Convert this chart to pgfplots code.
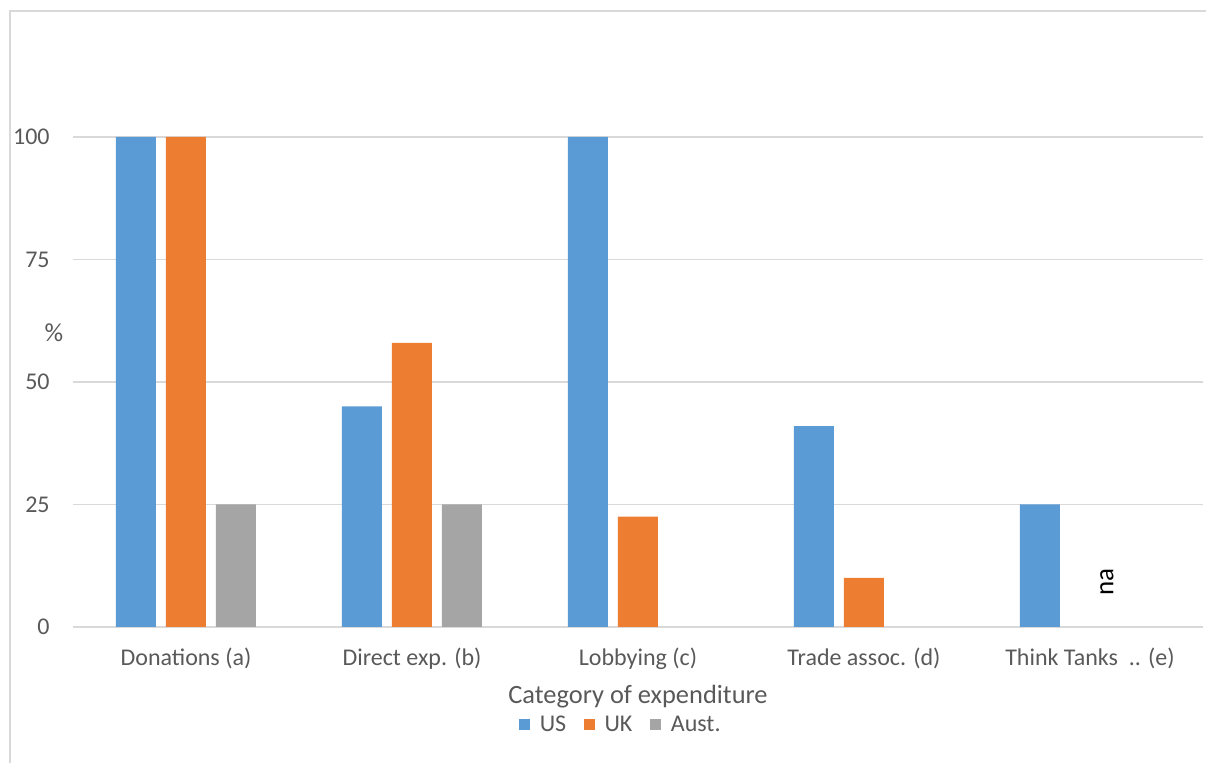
\documentclass[border=0pt]{standalone}
\usepackage{pgfplots}
\pgfplotsset{compat=1.18}
\usepackage{fontspec}
\setmainfont{Carlito}

\definecolor{usblue}{HTML}{5B9BD5}
\definecolor{ukorange}{HTML}{ED7D31}
\definecolor{ausgray}{HTML}{A5A5A5}
\definecolor{gridgray}{HTML}{D9D9D9}
\definecolor{labelgray}{HTML}{595959}

\begin{document}
\begin{tikzpicture}
\begin{axis}[
    name=ax,
    scale only axis,
    width=565pt, height=245pt,
    ybar=5pt, bar width=20pt,
    xmin=-0.5, xmax=4.5,
    ymin=0, ymax=100,
    xtick={0,1,2,3,4},
    xticklabels={Donations (a), Direct exp. (b), Lobbying (c), Trade assoc. (d), Think Tanks\ \ .. (e)},
    ytick={0,25,50,75,100},
    /pgf/number format/assume math mode=true,
    major tick length=0pt,
    axis line style={draw=none},
    ymajorgrids,
    major grid style={gridgray, line width=0.8pt},
    ticklabel style={font=\fontsize{12}{14}\selectfont, text=labelgray, inner sep=0pt},
    xticklabel style={anchor=base, yshift=-19.25pt},
    yticklabel style={anchor=east, xshift=-11.5pt},
    xlabel={Category of expenditure},
    xlabel style={at={(axis description cs:0.5,0)}, anchor=base, yshift=-38.5pt,
        inner sep=0pt, font=\fontsize{13.2}{15}\selectfont, text=labelgray},
    ylabel={\%},
    ylabel style={rotate=-90, at={(axis description cs:-0.0168,0.6)}, anchor=center,
        inner sep=0pt, font=\fontsize{13}{15}\selectfont, text=labelgray},
    legend image code/.code={\fill[#1] (0pt,-2.75pt) rectangle (5.5pt,2.75pt);},
    legend columns=3,
    legend style={draw=none, fill=none,
        at={(axis description cs:0.486,0)}, anchor=center, yshift=-49pt,
        nodes={font=\fontsize{12}{14}\selectfont, text=labelgray, inner sep=2.2pt},
        /tikz/every odd column/.append style={column sep=2.5pt},
        /tikz/every even column/.append style={column sep=6.8pt}},
]
\addplot[fill=usblue, draw=none] coordinates {(0,100) (1,45) (2,100) (3,41) (4,25)};
\addlegendentry{US}
\addplot[fill=ukorange, draw=none] coordinates {(0,100) (1,58) (2,22.5) (3,10)};
\addlegendentry{UK}
\addplot[fill=ausgray, draw=none] coordinates {(0,25) (1,25)};
\addlegendentry{Aust.}
\node[rotate=90, font=\fontsize{13.5}{15}\selectfont, text=black] at (axis cs:4.075,9.2) {na};
\end{axis}
\pgfresetboundingbox
\useasboundingbox (-36.5pt,-68pt) rectangle (566.5pt,313.5pt);
\draw[gridgray, line width=0.8pt] (-31.5pt,-68pt) -- (-31.5pt,308pt) -- (566.5pt,308pt);
\end{tikzpicture}
\end{document}
